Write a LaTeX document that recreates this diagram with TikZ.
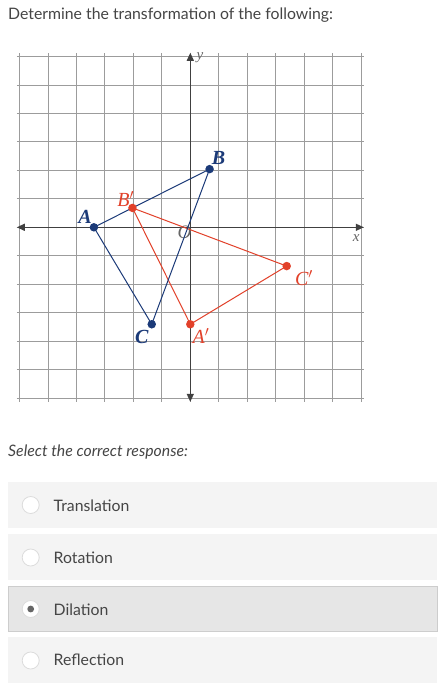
\documentclass[tikz,border=0pt]{standalone}
\usepackage{fontspec}
\setmainfont{Lato}
\newfontfamily\serifl{Liberation Serif}
\usetikzlibrary{arrows.meta}
\definecolor{navy}{HTML}{1B3A78}
\definecolor{redc}{HTML}{E2412A}
\definecolor{gridc}{HTML}{9C9C9C}
\definecolor{axisc}{HTML}{404040}
\definecolor{txt}{HTML}{454545}
\definecolor{optbg}{HTML}{F4F4F4}
\definecolor{selbg}{HTML}{E6E6E6}
\definecolor{selbd}{HTML}{CDCDCD}
\definecolor{radbd}{HTML}{DCDCDC}
\definecolor{dotc}{HTML}{666666}
\tikzset{
  uitext/.style={anchor=base west, inner sep=0pt, text=txt, font=\fontsize{15.8}{18}\selectfont},
  optbox/.style={fill=optbg, draw=none},
  selbox/.style={fill=selbg, draw=selbd, line width=0.8pt},
  radio/.style={circle, minimum size=17pt, inner sep=0pt, fill=white, draw=radbd, line width=0.8pt},
  bluedot/.style={circle, fill=navy, minimum size=8.5pt, inner sep=0pt},
  reddot/.style={circle, fill=redc, minimum size=8.5pt, inner sep=0pt},
  bluelab/.style={text=navy, inner sep=0pt, font=\serifl\bfseries\itshape\fontsize{20}{23}\selectfont},
  redlab/.style={text=redc, inner sep=0pt, font=\serifl\itshape\fontsize{20}{23}\selectfont},
  axlab/.style={text=axisc!80, inner sep=0pt, font=\serifl\itshape\fontsize{15}{17}\selectfont},
  bluetri/.style={navy, line width=1pt},
  redtri/.style={redc, line width=1pt},
  axisline/.style={axisc, line width=1.3pt, {Triangle[length=8pt,width=7pt]}-{Triangle[length=8pt,width=7pt]}}
}
\begin{document}
\begin{tikzpicture}[x=1pt,y=-1pt]
\useasboundingbox[fill=white] (0,0) rectangle (437,686);

\node[uitext] (title) at (8,19) {Determine the transformation of the following:};

\begin{scope}[shift={(190.3,227.3)}, x=19.28pt, y=19.39pt]
  \draw[gridc, line width=1pt] (-9,-9) grid (9,9);
  \draw[axisline] (-9,0) -- (9,0);
  \draw[axisline] (0,-9) -- (0,9);
  \node[axlab] (ylab) at (0.5,8.75) {y};
  \node[axlab] (xlab) at (8.6,-0.55) {x};
  \node[axlab, font=\serifl\itshape\fontsize{19}{22}\selectfont] (olab) at (-0.3,-0.25) {O};

  \coordinate (A) at (-5,0);
  \coordinate (B) at (1,3);
  \coordinate (C) at (-2,-5);
  \coordinate (Ap) at (0,-5);
  \coordinate (Bp) at (-3,1);
  \coordinate (Cp) at (5,-2);

  \draw[redtri] (Ap) -- (Bp) -- (Cp) -- cycle;
  \draw[bluetri] (A) -- (B) -- (C) -- cycle;

  \node[bluedot] (dA) at (A) {};
  \node[bluedot] (dB) at (B) {};
  \node[bluedot] (dC) at (C) {};
  \node[reddot] (dAp) at (Ap) {};
  \node[reddot] (dBp) at (Bp) {};
  \node[reddot] (dCp) at (Cp) {};

  \node[bluelab] (lA) at (-5.46,0.53) {A};
  \node[bluelab] (lB) at (1.46,3.57) {B};
  \node[bluelab] (lC) at (-2.52,-5.64) {C};
  \node[redlab] (lAp) at (0.55,-5.6) {A$'$};
  \node[redlab] (lBp) at (-3.35,1.46) {B$'$};
  \node[redlab] (lCp) at (5.9,-2.61) {C$'$};
\end{scope}

\node[uitext, font=\itshape\fontsize{15.8}{18}\selectfont] (select) at (8,456) {Select the correct response:};

\fill[optbg] (8,482) rectangle (437,528);
\fill[optbg] (8,534) rectangle (437,580);
\filldraw[selbox] (8,586) rectangle (437.5,631.5);
\fill[optbg] (8,637) rectangle (437,683);

\node[radio] (r1) at (30.7,505) {};
\node[radio] (r2) at (30.7,557.5) {};
\node[radio] (r3) at (30.7,609) {};
\node[radio] (r4) at (30.7,660.5) {};
\fill[dotc] (r3.center) circle (3.4pt);

\node[uitext] (t1) at (53.5,511.5) {Translation};
\node[uitext] (t2) at (53.5,563.3) {Rotation};
\node[uitext] (t3) at (53.5,615.3) {Dilation};
\node[uitext] (t4) at (53.5,665.7) {Reflection};
\end{tikzpicture}
\end{document}
